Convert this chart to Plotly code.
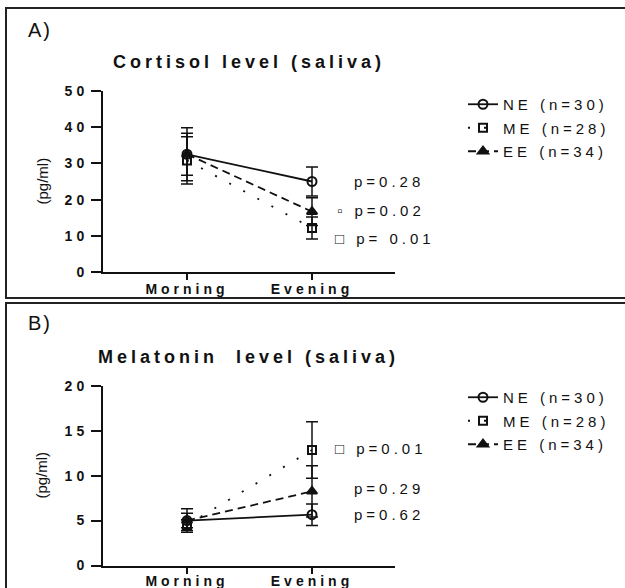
import plotly.graph_objects as go

# ---------------- data ----------------
categories = ["Morning", "Evening"]
group_names = ["NE (n=30)", "ME (n=28)", "EE (n=34)"]

cortisol_ne = [32.5, 25.0]
cortisol_ne_err = [7.3, 4.0]
cortisol_me = [30.8, 12.2]
cortisol_me_err = [6.5, 3.0]
cortisol_ee = [32.5, 16.7]
cortisol_ee_err = [5.8, 3.8]

melatonin_ne = [5.0, 5.65]
melatonin_ne_err = [1.3, 1.2]
melatonin_me = [4.5, 12.85]
melatonin_me_err = [0.6, 3.15]
melatonin_ee = [5.0, 8.25]
melatonin_ee_err = [0.8, 2.85]

cortisol_pvals = ["p=0.28", "▫ p=0.02", "□ p= 0.01"]
cortisol_p_x = [1.32, 1.18, 1.17]
cortisol_p_y = [24.9, 16.9, 9.2]
melatonin_pvals = ["□ p=0.01", "p=0.29", "p=0.62"]
melatonin_p_x = [1.165, 1.32, 1.32]
melatonin_p_y = [13.0, 8.6, 5.7]

W, H = 625, 588
FONT = "Liberation Sans, Arial, sans-serif"
INK = "#111111"

styles = [
    dict(dash="solid", symbol="circle-open", size=9),
    dict(dash="2px,14px", symbol="square-open", size=8),
    dict(dash="8px,5px", symbol="triangle-up", size=9),
]

fig = go.Figure()


def add_series(vals, errs, xa, ya, legend, group_prefix):
    for i, (v, e) in enumerate(zip(vals, errs)):
        st = styles[i]
        fig.add_trace(go.Scatter(
            x=categories, y=v, name=group_names[i],
            mode="lines+markers",
            line=dict(color=INK, width=1.8, dash=st["dash"]),
            marker=dict(symbol=st["symbol"], size=st["size"], color=INK,
                        line=dict(color=INK, width=2)),
            error_y=dict(type="data", array=e, visible=True, color=INK,
                         thickness=1.5, width=6),
            xaxis=xa, yaxis=ya, legend=legend,
            legendgroup=f"{group_prefix}{i}",
        ))


add_series([cortisol_ne, cortisol_me, cortisol_ee],
           [cortisol_ne_err, cortisol_me_err, cortisol_ee_err],
           "x", "y", "legend", "a")
add_series([melatonin_ne, melatonin_me, melatonin_ee],
           [melatonin_ne_err, melatonin_me_err, melatonin_ee_err],
           "x2", "y2", "legend2", "b")


def px_x(p):
    return p / W


def px_y(p):
    return 1 - p / H


xdom = [px_x(103), px_x(395)]
xrange_ = [-0.672, 1.664]

axis_common = dict(
    showline=True, linecolor=INK, linewidth=2, showgrid=False, zeroline=False,
    ticks="outside", tickcolor=INK, tickwidth=2, automargin=False,
    tickfont=dict(family=FONT, size=14, color=INK, weight="bold"),
)

fig.update_layout(
    width=W, height=H,
    margin=dict(l=0, r=0, t=0, b=0, autoexpand=False),
    paper_bgcolor="white", plot_bgcolor="white",
    font=dict(family=FONT, color=INK),
    xaxis=dict(domain=xdom, range=xrange_, type="category", anchor="y",
               ticklen=6, ticklabelstandoff=-3, **axis_common),
    yaxis=dict(domain=[px_y(272.3), px_y(90.7)], range=[0, 50], dtick=10,
               anchor="x", ticklen=10, **axis_common),
    xaxis2=dict(domain=xdom, range=xrange_, type="category", anchor="y2",
                ticklen=6, ticklabelstandoff=-4, **axis_common),
    yaxis2=dict(domain=[px_y(565.5), px_y(385.7)], range=[0, 20], dtick=5,
                anchor="x2", ticklen=10, **axis_common),
    legend=dict(x=px_x(463), y=px_y(88), xanchor="left", yanchor="top",
                font=dict(family=FONT, size=15, color=INK),
                tracegroupgap=1, bgcolor="rgba(0,0,0,0)"),
    legend2=dict(x=px_x(463), y=px_y(381), xanchor="left", yanchor="top",
                 font=dict(family=FONT, size=15, color=INK),
                 tracegroupgap=1, bgcolor="rgba(0,0,0,0)"),
    showlegend=True,
)

# panel frames
fig.add_shape(type="rect", xref="paper", yref="paper",
              x0=px_x(6), x1=1.02, y0=px_y(298), y1=px_y(8),
              line=dict(color="#222222", width=2))
fig.add_shape(type="rect", xref="paper", yref="paper",
              x0=px_x(6), x1=1.02, y0=-0.02, y1=px_y(303),
              line=dict(color="#222222", width=2))

# panel labels / titles
for txt, y in [("A)", 30), ("B)", 323)]:
    fig.add_annotation(text=txt, xref="paper", yref="paper", x=px_x(26), y=px_y(y),
                       xanchor="left", yanchor="middle", showarrow=False, align="left",
                       font=dict(family=FONT, size=20, color=INK))
for txt, y in [("Cortisol level (saliva)", 62), ("Melatonin\u00a0 level (saliva)", 357)]:
    fig.add_annotation(text=txt, xref="paper", yref="paper", x=px_x(249), y=px_y(y),
                       xanchor="center", yanchor="middle", showarrow=False,
                       font=dict(family=FONT, size=18, color=INK, weight="bold"))
for y in [181.5, 475.6]:
    fig.add_annotation(text="(pg/ml)", xref="paper", yref="paper", x=px_x(42), y=px_y(y),
                       xanchor="center", yanchor="middle", showarrow=False, textangle=-90,
                       font=dict(family=FONT, size=15, color=INK))

# p-values
for t, x, y in zip(cortisol_pvals, cortisol_p_x, cortisol_p_y):
    fig.add_annotation(text=t, xref="x", yref="y", x=x, y=y, xanchor="left",
                       yanchor="middle", align="left", showarrow=False,
                       font=dict(family=FONT, size=15, color=INK))
for t, x, y in zip(melatonin_pvals, melatonin_p_x, melatonin_p_y):
    fig.add_annotation(text=t, xref="x2", yref="y2", x=x, y=y, xanchor="left",
                       yanchor="middle", align="left", showarrow=False,
                       font=dict(family=FONT, size=15, color=INK))

post = """
document.body.style.margin='0';
var gd=document.getElementById('{plot_id}');
gd.querySelectorAll('text').forEach(function(t){
  var s=t.textContent;
  if(s==='(pg/ml)'){return;}
  if(s==='A)'||s==='B)'){t.style.letterSpacing='2px';return;}
  t.style.letterSpacing='4px';
});
gd.querySelectorAll('[clip-path]').forEach(function(e){
  var c=e.getAttribute('clip-path')||'';
  if(c.indexOf('legend')>=0){e.removeAttribute('clip-path');}
});
"""

fig.write_html("out.html", post_script=post, config={"displayModeBar": False})
